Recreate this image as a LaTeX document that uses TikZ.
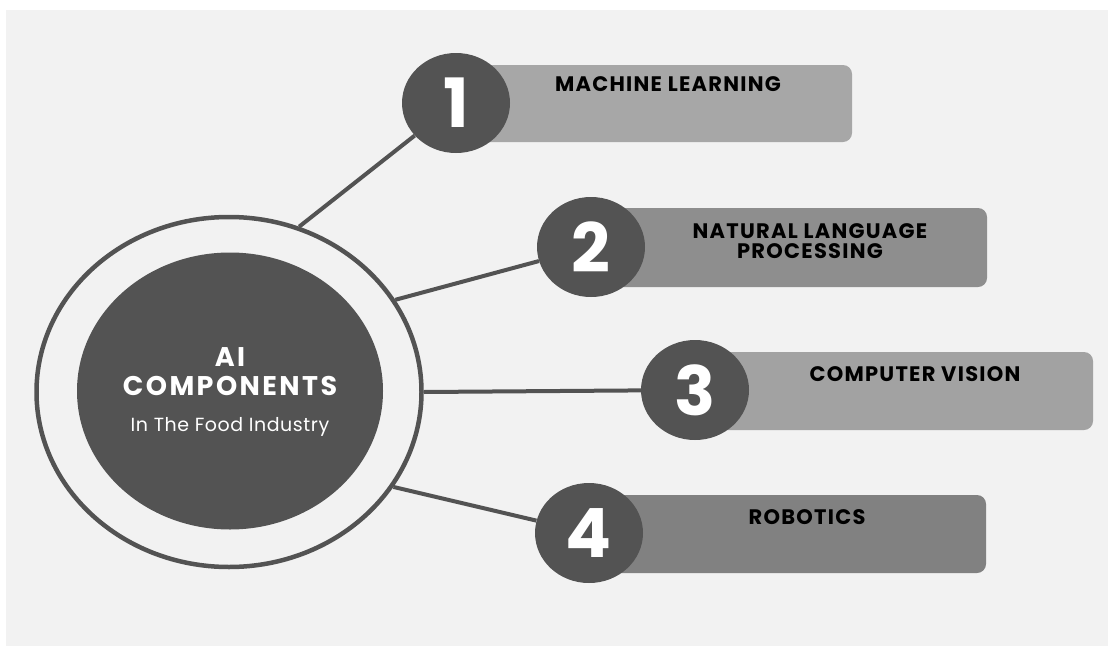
\documentclass[tikz,border=0pt]{standalone}
\usepackage{fontspec}
\setmainfont{Poppins}
\usepackage{tikz}
\usetikzlibrary{shapes.geometric}

\definecolor{panel}{HTML}{F2F2F2}
\definecolor{hubgray}{HTML}{535353}
\definecolor{boxa}{HTML}{A7A7A7}
\definecolor{boxb}{HTML}{8E8E8E}
\definecolor{boxc}{HTML}{A2A2A2}
\definecolor{boxd}{HTML}{818181}

\begin{document}
\begin{tikzpicture}[x=1pt,y=-1pt]
\tikzset{
    numdisc/.style={ellipse,fill=hubgray,minimum width=108pt,minimum height=100pt,
        inner sep=0pt,text=white,font=\fontsize{68}{68}\selectfont\bfseries},
    topicbar/.style={rounded corners=9pt},
    topictext/.style={font=\fontsize{21}{23}\selectfont\bfseries\addfontfeatures{LetterSpace=6},
        align=center,text=black},
    hubtext/.style={text=white,font=\fontsize{27}{27}\selectfont\bfseries\addfontfeatures{LetterSpace=9}},
    spoke/.style={draw=hubgray,line width=4pt}
}
\useasboundingbox (0,0) rectangle (1108,645);
\fill[panel] (6,10) rectangle (1115,652);

% centre hub
\node[ellipse,draw=hubgray,line width=4.5pt,minimum width=385pt,minimum height=350pt] (hub) at (229,392){};
\node[ellipse,fill=hubgray,minimum width=306pt,minimum height=277pt] (core) at (230,391){};
\node[hubtext] (ai) at (230,357){AI};
\node[hubtext] (comp) at (230,386){COMPONENTS};
\node[text=white,font=\fontsize{19}{19}\selectfont\addfontfeatures{LetterSpace=3}] (food) at (230,427){In The Food Industry};

% bars behind the numbers
\fill[boxa,topicbar] (456,65) rectangle (852,142);
\fill[boxb,topicbar] (591,208) rectangle (987,287);
\fill[boxc,topicbar] (695,352) rectangle (1093,430);
\fill[boxd,topicbar] (589,495) rectangle (986,573);

\node[topictext] (ml)  at (668,84) {MACHINE LEARNING};
\node[topictext] (nlp) at (810,241) {NATURAL LANGUAGE\\[-3pt]PROCESSING};
\node[topictext] (cv)  at (915,374) {COMPUTER VISION};
\node[topictext] (rob) at (807,517) {ROBOTICS};

% numbered discs
\node[numdisc] (n1) at (456,103){1};
\node[numdisc] (n2) at (591,247){2};
\node[numdisc] (n3) at (695,390){3};
\node[numdisc] (n4) at (589,533){4};

\draw[spoke] (hub.67) -- (n1);
\draw[spoke] (hub.29) -- (n2);
\draw[spoke] (hub.0) -- (n3);
\draw[spoke] (hub.-30) -- (n4);
\end{tikzpicture}
\end{document}
